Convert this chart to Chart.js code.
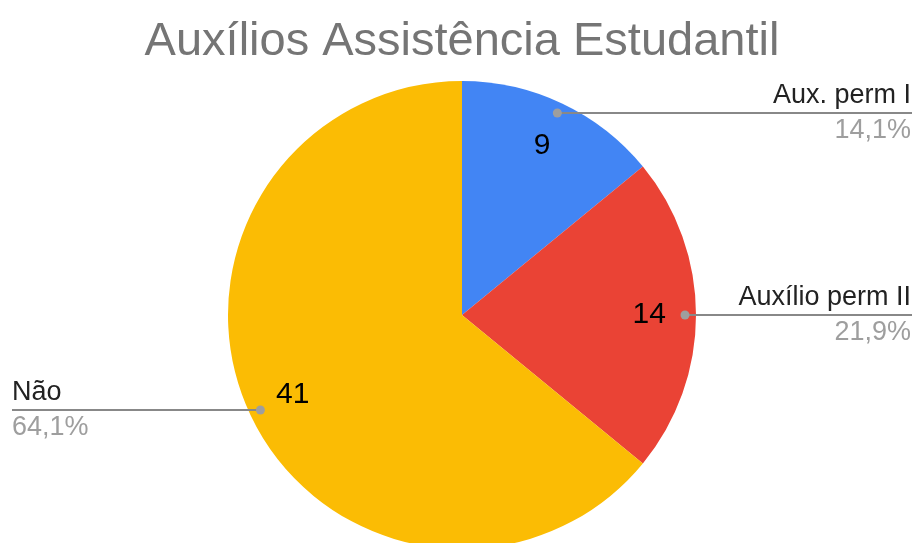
<!DOCTYPE html>
<html>
<head>
<meta charset="utf-8">
<script src="https://cdn.jsdelivr.net/npm/chart.js@4"></script>
<style>
    html, body { margin: 0; padding: 0; background: #fff; overflow: hidden; }
    #wrap { width: 916px; height: 543px; overflow: hidden; }
</style>
</head>
<body>
<div id="wrap"><canvas id="chart" width="916" height="560"></canvas></div>
<script>
// Data
const TITLE = 'Auxílios Assistência Estudantil';
const labels = ['Aux. perm I', 'Auxílio perm II', 'Não'];
const values = [9, 14, 41];
const colors = ['#4285f4', '#ea4335', '#fbbc04'];

const FONT = '"Liberation Sans", Arial, sans-serif';

// Draws title, values inside slices and the leader-line labels
const sheetLabels = {
    id: 'sheetLabels',
    afterDraw(chart) {
        const ctx = chart.ctx;
        const meta = chart.getDatasetMeta(0);
        const total = values.reduce((a, b) => a + b, 0);
        const W = chart.width;

        ctx.save();

        // title
        ctx.font = '47px ' + FONT;
        ctx.fillStyle = '#757575';
        ctx.textAlign = 'center';
        ctx.textBaseline = 'alphabetic';
        ctx.fillText(TITLE, 462, 55);

        meta.data.forEach((arc, i) => {
            const p = arc.getProps(['x', 'y', 'startAngle', 'endAngle', 'outerRadius'], true);
            const mid = (p.startAngle + p.endAngle) / 2;
            const r = p.outerRadius;

            // value inside the slice
            const vx = p.x + Math.cos(mid) * r * 0.8;
            const vy = p.y + Math.sin(mid) * r * 0.8;
            ctx.font = '30px ' + FONT;
            ctx.fillStyle = '#000';
            ctx.textAlign = 'center';
            ctx.textBaseline = 'middle';
            ctx.fillText(String(values[i]), vx, vy);

            // leader dot + line
            const dx = p.x + Math.cos(mid) * r * 0.953;
            const dy = Math.round(p.y + Math.sin(mid) * r * 0.953);
            const right = Math.cos(mid) >= 0;
            const endX = right ? W - 4 : 12;

            ctx.strokeStyle = '#888';
            ctx.lineWidth = 2;
            ctx.beginPath();
            ctx.moveTo(dx, dy);
            ctx.lineTo(endX, dy);
            ctx.stroke();

            ctx.fillStyle = '#9e9e9e';
            ctx.beginPath();
            ctx.arc(dx, dy, 4.5, 0, Math.PI * 2);
            ctx.fill();

            // label text
            const pct = (values[i] / total * 100).toFixed(1).replace('.', ',') + '%';
            const tx = right ? W - 5 : 12;
            ctx.textAlign = right ? 'right' : 'left';
            ctx.textBaseline = 'alphabetic';
            ctx.font = '27px ' + FONT;
            ctx.fillStyle = '#222';
            ctx.fillText(labels[i], tx, dy - 10);
            ctx.fillStyle = '#9e9e9e';
            ctx.fillText(pct, tx, dy + 25);
        });

        ctx.restore();
    }
};

new Chart(document.getElementById('chart'), {
    type: 'pie',
    data: {
        labels: labels,
        datasets: [{
            data: values,
            backgroundColor: colors,
            borderWidth: 0
        }]
    },
    options: {
        responsive: false,
        animation: false,
        devicePixelRatio: 1,
        layout: {
            padding: { top: 81, left: 228, right: 220, bottom: 11 }
        },
        plugins: {
            legend: { display: false },
            title: { display: false },
            tooltip: { enabled: false }
        }
    },
    plugins: [sheetLabels]
});
</script>
</body>
</html>
